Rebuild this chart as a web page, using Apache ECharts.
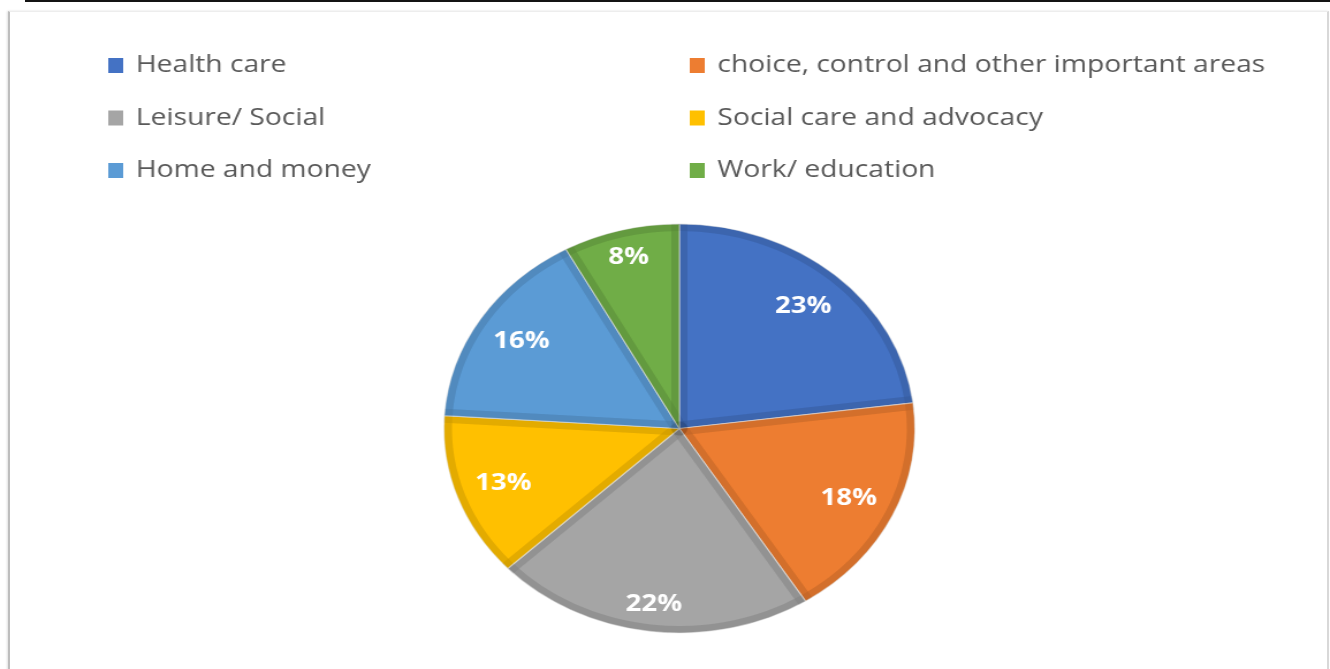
<!DOCTYPE html>
<html>
<head>
<meta charset="utf-8">
<title>Areas of concern</title>
<script src="https://cdn.jsdelivr.net/npm/echarts@6/dist/echarts.min.js"></script>
<style>
  html, body { margin: 0; padding: 0; background: #fff; width: 1330px; height: 669px; overflow: hidden; }
  #topRule { position: absolute; left: 25px; top: 0; width: 1305px; height: 2px; background: #141414; }
  #frame {
    position: absolute; left: 8px; top: 11px; width: 1317px; height: 670px;
    border-left: 2px solid #bdbdbd; border-top: 1px solid #ededed; border-right: 2px solid #d8d8d8;
    box-shadow: -1px 0 2px rgba(0,0,0,0.12);
  }
  /* the chart is laid out narrower and widened horizontally, giving the oval pie */
  #chart { position: absolute; left: 0; top: 0; width: 1155px; height: 669px; transform: scaleX(1.1515); transform-origin: 0 0; }
</style>
</head>
<body>
<div id="topRule"></div>
<div id="frame"></div>
<div id="chart"></div>
<script>
// Categories and their shares (percent), clockwise from 12 o'clock
const categories = [
  'Health care',
  'choice, control and other important areas',
  'Leisure/ Social',
  'Social care and advocacy',
  'Home and money',
  'Work/ education'
];
const shares = [23, 18, 22, 13, 16, 8];

// Legend columns (category indices)
const legendLeft = [0, 2, 4];
const legendRight = [1, 3, 5];

// Slice colours
const palette = ['#4472C4', '#ED7D31', '#A5A5A5', '#FFC000', '#5B9BD5', '#70AD47'];

// Slices whose labels sit closer to the rim
const rimLabels = new Set(['Leisure/ Social', 'Work/ education']);

const R = 204.5, CX = 590, CY = 428.5, BAND = 7;
const SHADE = 'rgba(0,0,0,0.055)';

const pieBase = {
  type: 'pie',
  center: [CX, CY],
  startAngle: 90,
  clockwise: true,
  silent: true,
  animation: false,
  avoidLabelOverlap: false,
  emphasis: { disabled: true },
  label: { show: false },
  labelLine: { show: false }
};

const sliceData = (extra) => categories.map((name, i) => Object.assign({ name, value: shares[i] }, extra ? extra(name, i) : {}));

const labelStyle = {
  position: 'inside',
  formatter: '{c}%',
  color: '#ffffff',
  fontFamily: 'Open Sans',
  fontWeight: 'bold',
  fontSize: 24
};

const chart = echarts.init(document.getElementById('chart'), null, { renderer: 'canvas' });

const legendText = {
  fontFamily: 'Open Sans',
  fontSize: 24.5,
  color: '#595959',
  lineHeight: 28,
  padding: [0, 0, 0, 6]
};

const legendCommon = {
  orient: 'vertical', top: 51.5, padding: 0,
  itemWidth: 13, itemHeight: 15, itemGap: 24.5,
  icon: 'rect', selectedMode: false,
  itemStyle: { borderWidth: 0 },
  textStyle: legendText
};

chart.setOption({
  backgroundColor: 'transparent',
  legend: [
    Object.assign({}, legendCommon, { left: 94, data: legendLeft.map(i => categories[i]) }),
    Object.assign({}, legendCommon, { left: 599, data: legendRight.map(i => categories[i]) })
  ],
  series: [
    // filled slices
    Object.assign({}, pieBase, {
      name: 'Share',
      radius: [0, R],
      itemStyle: { borderColor: 'rgba(255,255,255,0.55)', borderWidth: 1.2 },
      data: sliceData((name, i) => ({ itemStyle: { color: palette[i] } }))
    }),
    // darker band along the radial edges of each slice
    Object.assign({}, pieBase, {
      name: 'Edge',
      radius: [0, R],
      itemStyle: { color: 'rgba(0,0,0,0)', borderColor: SHADE, borderWidth: 2 * BAND, borderJoin: 'round' },
      data: sliceData()
    }),
    // trims the band stroke outside the rim
    Object.assign({}, pieBase, {
      name: 'Trim',
      radius: [R + 0.4, R + BAND + 3],
      itemStyle: { color: '#ffffff' },
      data: [{ name: 'trim', value: 1 }]
    }),
    // darker band along the rim
    Object.assign({}, pieBase, {
      name: 'Rim',
      radius: [R - BAND, R],
      itemStyle: { color: SHADE },
      data: [{ name: 'rim', value: 1 }]
    }),
    // percentage labels near the rim
    Object.assign({}, pieBase, {
      name: 'LabelsOuter',
      radius: [0.7 * R, R],
      itemStyle: { color: 'rgba(0,0,0,0)' },
      label: labelStyle,
      data: sliceData((name) => ({ label: { show: rimLabels.has(name) } }))
    }),
    // percentage labels further in
    Object.assign({}, pieBase, {
      name: 'LabelsInner',
      radius: [0.56 * R, R],
      itemStyle: { color: 'rgba(0,0,0,0)' },
      label: labelStyle,
      data: sliceData((name) => ({ label: { show: !rimLabels.has(name) } }))
    })
  ]
});
</script>
</body>
</html>
